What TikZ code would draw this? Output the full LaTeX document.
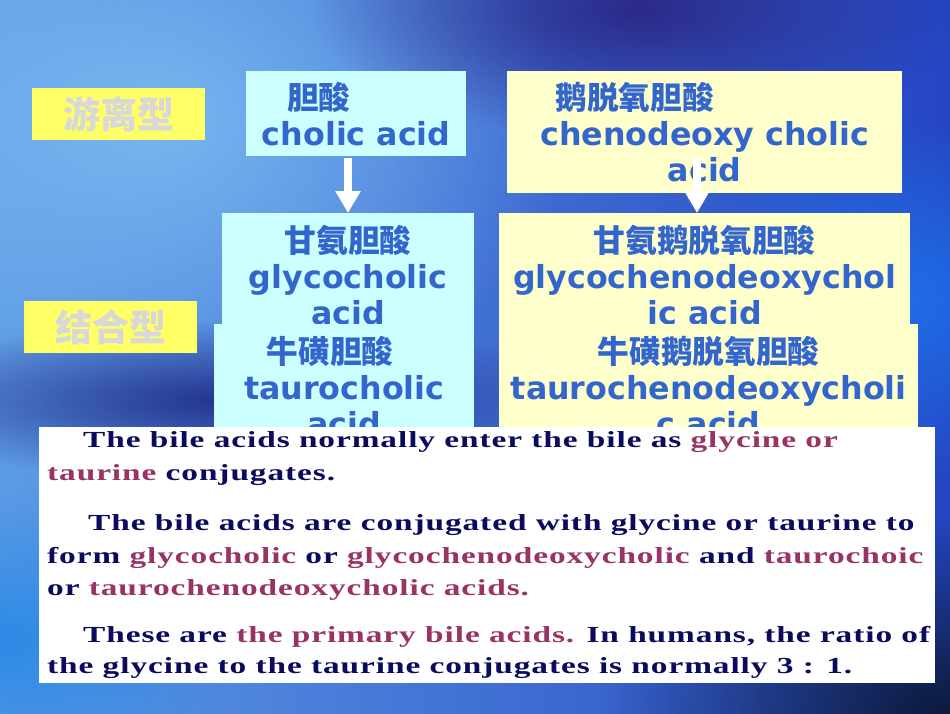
\documentclass[tikz,border=0pt]{standalone}
\usepackage{fontspec}
\setmainfont{DejaVu Sans}
\newfontfamily\cjk{Noto Sans CJK SC}
\newfontfamily\bodyserif{Liberation Serif}[FakeStretch=1.45,LetterSpace=4]
\usetikzlibrary{arrows.meta,fadings}

\definecolor{acidblue}{HTML}{3366CC}
\definecolor{cyanfill}{HTML}{CCFFFF}
\definecolor{creamfill}{HTML}{FFFFCC}
\definecolor{labelfill}{HTML}{FFFF66}
\definecolor{labeltext}{HTML}{D8D8D8}
\definecolor{navy}{HTML}{0B0B5E}
\definecolor{maroon}{HTML}{993366}
% background tones
\definecolor{bgleft}{RGB}{93,155,228}
\definecolor{bgright}{RGB}{37,70,196}
\definecolor{bglight}{RGB}{120,182,240}
\definecolor{bgpurple}{RGB}{43,42,136}
\definecolor{bgbright}{RGB}{31,110,232}
\definecolor{bgnavy}{RGB}{36,51,142}
\definecolor{bgsky}{RGB}{44,138,230}
\definecolor{bgdeep}{RGB}{13,26,58}

\tikzfading[name=softblob, inner color=transparent!0, outer color=transparent!100]

\newcommand{\hl}[1]{\textcolor{maroon}{#1}}

\begin{document}
\begin{tikzpicture}[x=1pt,y=-1pt,
    acidbox/.style={inner sep=0pt, anchor=north west, align=center, text=acidblue,
      font=\fontsize{31.7}{36}\selectfont\bfseries},
    cyanbox/.style={acidbox, fill=cyanfill},
    creambox/.style={acidbox, fill=creamfill},
    typelabel/.style={fill=labelfill, text=labeltext, inner sep=0pt, anchor=north west,
      minimum width=173pt, minimum height=52pt, font=\cjk\fontsize{37}{40}\selectfont\bfseries},
    bigarrow/.style={draw=white, line width=8pt, -{Triangle[width=24pt,length=22pt]}},
    bodyline/.style={anchor=base west, inner sep=0pt, text=navy,
      font=\bodyserif\fontsize{23}{32}\selectfont\bfseries}]
  \useasboundingbox (0,0) rectangle (950,713);

  % background
  \shade[left color=bgleft, right color=bgright] (0,0) rectangle (950,713);
  \fill[bglight, path fading=softblob] (150,120) ellipse (420 and 300);
  \fill[bgpurple, path fading=softblob] (640,10) ellipse (330 and 130);
  \fill[bgbright, path fading=softblob] (900,300) ellipse (220 and 180);
  \fill[bgnavy, path fading=softblob] (230,400) ellipse (380 and 80);
  \fill[bgsky, path fading=softblob] (0,640) ellipse (250 and 150);
  \fill[bgdeep, path fading=softblob] (950,713) ellipse (350 and 200);

  % labels
  \node[typelabel] (free) at (32,88) {游离型};
  \node[typelabel] (bound) at (24,301) {结合型};

  % free acids
  \node[cyanbox, minimum width=220pt, minimum height=85pt] (cholic) at (246,71)
    {{\cjk 胆酸}\hspace*{75pt}\\cholic acid};
  \node[creambox, minimum width=395pt, minimum height=122pt] (cheno) at (507,71)
    {{\cjk 鹅脱氧胆酸}\hspace*{140pt}\\chenodeoxy cholic\\acid};

  % conjugated acids
  \node[cyanbox, minimum width=252pt, minimum height=123pt] (glyco) at (222,213)
    {{\cjk 甘氨胆酸}\\glycocholic\\acid};
  \node[creambox, minimum width=411pt, minimum height=123pt] (glycocheno) at (499,213)
    {{\cjk 甘氨鹅脱氧胆酸}\\glycochenodeoxychol\\ic acid};
  \node[cyanbox, minimum width=260pt, minimum height=124pt] (tauro) at (214,324)
    {{\cjk 牛磺胆酸}\hspace*{28pt}\\taurocholic\\acid};
  \node[creambox, minimum width=419pt, minimum height=124pt] (taurocheno) at (499,324)
    {{\cjk 牛磺鹅脱氧胆酸}\\taurochenodeoxycholi\\c acid};

  % arrows
  \coordinate (cholicdrop) at (348,158);
  \coordinate (chenodrop) at (697,158);
  \draw[bigarrow] (cholicdrop) -- (cholicdrop |- glyco.north);
  \draw[bigarrow] (chenodrop) -- (chenodrop |- glycocheno.north);

  % text panel
  \node[fill=white, inner sep=0pt, anchor=north west, minimum width=896pt, minimum height=256pt]
    (panel) at (39,427) {};
  \node[bodyline] (p1a) at (83,447) {The bile acids normally enter the bile as \hl{glycine or}};
  \node[bodyline] (p1b) at (47,480) {\hl{taurine} conjugates.};
  \node[bodyline] (p2a) at (88,530) {The bile acids are conjugated with glycine or taurine to};
  \node[bodyline] (p2b) at (47,563) {form \hl{glycocholic} or \hl{glycochenodeoxycholic} and \hl{taurochoic}};
  \node[bodyline] (p2c) at (47,595) {or \hl{taurochenodeoxycholic acids.}};
  \node[bodyline] (p3a) at (83,642) {These are \hl{the primary bile acids.} In humans, the ratio of};
  \node[bodyline] (p3b) at (47,673) {the glycine to the taurine conjugates is normally 3 : 1.};
\end{tikzpicture}
\end{document}
